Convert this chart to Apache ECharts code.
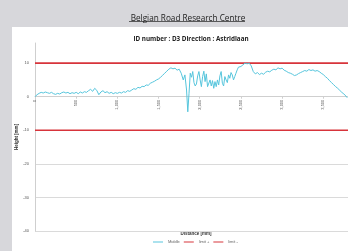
<!DOCTYPE html>
<html>
<head>
<meta charset="utf-8">
<script src="https://cdn.jsdelivr.net/npm/echarts@6/dist/echarts.min.js"></script>
<style>html,body{margin:0;padding:0;background:#d7d7db;}</style>
</head>
<body>
<div id="main" style="width:348px;height:251px;"></div>
<script>
var distance = [0,25,50,75,100,125,150,175,200,225,250,275,300,325,350,375,400,425,450,475,
  500,525,550,575,600,625,650,675,700,725,750,775,800,825,850,875,900,925,950,975,
  1000,1025,1050,1075,1100,1125,1150,1175,1200,1225,1250,1275,1300,1325,1350,1375,1400,1425,1450,1475,
  1500,1525,1550,1575,1600,1625,1650,1675,1700,1725,1750,1775,1800,1820,1840,1855,1870,1885,1900,1915,
  1930,1945,1960,1975,1990,2005,2020,2035,2050,2065,2080,2095,2110,2125,2140,2155,2170,2185,2200,2215,
  2230,2245,2260,2275,2290,2305,2320,2335,2350,2365,2380,2395,2410,2425,2440,2455,2470,2485,2500,2525,
  2550,2575,2600,2625,2650,2675,2700,2725,2750,2775,2800,2825,2850,2875,2900,2925,2950,2975,3000,3025,
  3050,3075,3100,3125,3150,3175,3200,3225,3250,3275,3300,3325,3350,3375,3400,3425,3450,3475,3500,3525,
  3550,3575,3600,3625,3650,3675,3700,3725,3750,3775,3790];
var middle = [0,0.6,1.0,1.3,1.1,1.4,1.2,1.0,1.3,0.9,0.7,1.0,0.8,1.2,1.4,1.1,1.3,0.9,1.2,1.0,
  1.3,0.9,1.4,1.1,1.5,1.3,1.8,2.2,1.6,2.5,1.9,0.6,1.4,1.8,1.2,1.5,1.0,1.3,0.9,1.2,
  1.0,1.3,1.1,1.5,1.3,1.8,1.6,2.0,2.4,2.2,2.8,2.6,3.1,3.0,3.5,3.4,4.0,4.3,4.6,5.0,
  5.3,5.8,6.4,7.0,7.6,8.2,8.6,8.3,8.5,7.9,8.2,7.0,5.0,6.5,2.0,-4.5,1.0,7.0,5.8,7.5,
  4.2,3.2,3.8,6.2,7.5,5.0,3.0,6.0,7.6,4.5,6.8,3.0,2.8,5.0,3.2,4.8,2.5,4.5,3.0,5.0,
  3.5,6.2,7.5,4.0,3.2,6.0,5.0,4.2,6.5,5.5,7.2,6.5,5.0,6.0,7.0,8.0,8.8,9.2,9.0,9.5,
  10.0,9.8,10.0,9.2,7.5,6.8,7.2,6.6,7.0,6.7,7.3,7.6,7.4,7.9,8.2,8.0,8.6,8.3,8.5,7.9,
  7.6,7.2,7.0,6.7,6.3,6.5,6.9,7.2,7.5,7.8,7.6,8.1,7.8,8.0,7.6,7.8,7.5,7.0,6.6,6.0,
  5.5,4.8,4.2,3.6,3.0,2.5,1.9,1.3,0.8,0.2,-0.3];
var limitX = [0, 3800];
var limitPlus = [10, 10];
var limitMinus = [-10, -10];

function pairs(xs, ys) {
  var out = [];
  for (var i = 0; i < xs.length; i++) out.push([xs[i], ys[i]]);
  return out;
}

var chart = echarts.init(document.getElementById('main'));
chart.setOption({
  animation: false,
  backgroundColor: '#d7d7db',
  graphic: [
    { type: 'rect', z: -10, shape: { x: 12, y: 27, width: 340, height: 230 }, style: { fill: '#ffffff' } },
    { type: 'line', shape: { x1: 129, y1: 21.5, x2: 245, y2: 21.5 }, style: { stroke: '#222', lineWidth: 0.7 } },
    { type: 'text', x: 196, y: 234, style: { text: 'Distance [mm]', fill: '#333', font: 'bold 4.5px "Liberation Sans"', align: 'center', verticalAlign: 'middle' } }
  ],
  title: [
    { text: 'Belgian Road Research Centre', left: 183, top: 9.5, textAlign: 'center',
      textStyle: { fontFamily: 'Open Sans', fontSize: 8.2, fontWeight: 'normal', color: '#222' } },
    { text: 'ID number : D3 Direction : Astridlaan', left: 186, top: 31, textAlign: 'center',
      textStyle: { fontFamily: 'Open Sans', fontSize: 6.3, fontWeight: 'bold', color: '#222' } }
  ],
  legend: {
    bottom: 2, left: 148, itemWidth: 10, itemHeight: 1, itemGap: 4, icon: 'rect',
    textStyle: { fontSize: 4, color: '#666', fontFamily: 'Liberation Sans' },
    data: ['Middle', 'limit +', 'limit -']
  },
  grid: { left: 35, right: 0, top: 43, bottom: 20 },
  xAxis: {
    type: 'value', min: 0, max: 3800, interval: 500, offset: -134.3,
    axisLine: { onZero: false, lineStyle: { color: '#cfcfcf' } },
    axisTick: { show: true, length: 2, lineStyle: { color: '#cfcfcf' } },
    axisLabel: { rotate: 90, fontSize: 4, color: '#555', margin: 3, showMaxLabel: false },
    splitLine: { show: false }
  },
  yAxis: {
    type: 'value', min: -40, max: 16, interval: 10,
    name: 'Height [mm]', nameLocation: 'middle', nameGap: 16, nameRotate: 90, nameMoveOverlap: false,
    nameTextStyle: { fontSize: 4.5, color: '#333', fontWeight: 'bold' },
    axisLine: { show: true, lineStyle: { color: '#cfcfcf' } },
    axisTick: { show: false },
    axisLabel: { fontSize: 4, color: '#555', margin: 6, showMaxLabel: false },
    splitLine: { show: true, showMaxLine: false, lineStyle: { color: '#dadada', width: 1 } }
  },
  series: [
    { name: 'Middle', type: 'line', data: pairs(distance, middle), showSymbol: false,
      lineStyle: { color: '#56c5dc', width: 1 }, itemStyle: { color: '#56c5dc' }, z: 3 },
    { name: 'limit +', type: 'line', data: pairs(limitX, limitPlus), showSymbol: false,
      lineStyle: { color: '#d7343b', width: 1.6 }, itemStyle: { color: '#d7343b' }, z: 2 },
    { name: 'limit -', type: 'line', data: pairs(limitX, limitMinus), showSymbol: false,
      lineStyle: { color: '#d7343b', width: 1.6 }, itemStyle: { color: '#d7343b' }, z: 2 }
  ]
});
</script>
</body>
</html>
